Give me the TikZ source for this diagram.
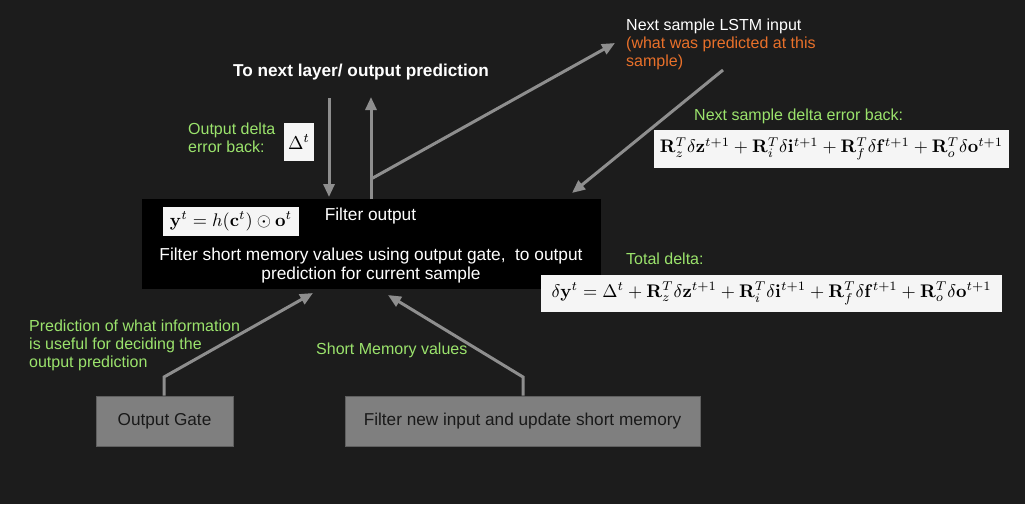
\documentclass[tikz,border=0pt]{standalone}
\usepackage[no-math]{fontspec}
\setmainfont{Liberation Sans}
\usepackage{amsmath}
\usepackage{graphicx}
\usetikzlibrary{arrows.meta}
\definecolor{bg}{HTML}{1C1C1C}
\definecolor{lgreen}{HTML}{9BE36C}
\definecolor{orng}{HTML}{E8702A}
\definecolor{arrc}{HTML}{8E8E8E}
\definecolor{gbox}{HTML}{7F7F7F}
\definecolor{gboxd}{HTML}{5F5F5F}
\definecolor{fbox}{HTML}{F5F5F5}
\tikzset{
  conn/.style={draw=arrc, line width=3pt, -{Triangle[length=13pt,width=11pt]}},
  lbl/.style={text=lgreen, font=\fontsize{16}{18}\selectfont, align=left, anchor=north west, inner sep=0pt},
  wlbl/.style={text=white, font=\fontsize{17.3}{19}\selectfont, inner sep=0pt},
  fml/.style={fill=fbox, inner sep=0pt},
  gatebox/.style={fill=gbox, draw=gboxd, line width=1pt, inner sep=0pt, font=\fontsize{17.2}{19}\selectfont, text=black!90},
}
\begin{document}
\begin{tikzpicture}[x=1pt,y=-1pt]
\fill[bg] (0,0) rectangle (1025,504);
\useasboundingbox (0,0) rectangle (1025,504);

% main box
\node[fill=black, minimum width=459pt, minimum height=90pt, inner sep=0pt, anchor=north west] (main) at (142,199) {};
\node[fml, minimum width=136pt, minimum height=29pt] (yform) at (231,221.5) {\resizebox{122pt}{!}{$\mathbf{y}^t = h(\mathbf{c}^t)\odot\mathbf{o}^t$}};
\node[wlbl] (fout) at (370.5,216) {Filter output};
\node[wlbl, align=center] (fdesc) at (371,265.5) {Filter short memory values using output gate,\ \ to output\\prediction for current sample};

% top
\node[text=white, font=\bfseries\fontsize{17.2}{19}\selectfont, inner sep=0pt] (nextl) at (361,72) {To next layer/ output prediction};
\node[lbl] (odlbl) at (188,123) {Output delta\\error back:};
\node[fml, minimum width=30pt, minimum height=38pt] (dform) at (299,142) {\resizebox{22pt}{!}{$\Delta^t$}};

\node[lbl, text=white, align=left] (nslstm) at (626,19) {Next sample LSTM input\\\textcolor{orng}{(what was predicted at this}\\\textcolor{orng}{sample)}};
\node[lbl] (nsdlbl) at (694,109) {Next sample delta error back:};
\node[fml, minimum width=355pt, minimum height=38pt] (nsform) at (831.5,149) {\resizebox{343pt}{!}{$\mathbf{R}_z^T\delta\mathbf{z}^{t+1}+\mathbf{R}_i^T\delta\mathbf{i}^{t+1}+\mathbf{R}_f^T\delta\mathbf{f}^{t+1}+\mathbf{R}_o^T\delta\mathbf{o}^{t+1}$}};
\node[lbl] (tdlbl) at (626,253) {Total delta:};
\node[fml, minimum width=461pt, minimum height=37pt] (tform) at (771.5,293.5) {\resizebox{440pt}{!}{$\delta\mathbf{y}^t=\Delta^t+\mathbf{R}_z^T\delta\mathbf{z}^{t+1}+\mathbf{R}_i^T\delta\mathbf{i}^{t+1}+\mathbf{R}_f^T\delta\mathbf{f}^{t+1}+\mathbf{R}_o^T\delta\mathbf{o}^{t+1}$}};

% bottom
\node[lbl] (predlbl) at (29,320) {Prediction of what information\\is useful for deciding the\\output prediction};
\node[lbl] (smlbl) at (316,343) {Short Memory values};
\node[gatebox, minimum width=137pt, minimum height=50pt] (og) at (164.5,421) {\raisebox{-2pt}{Output Gate}};
\node[gatebox, minimum width=355pt, minimum height=50pt] (fn) at (522.5,421) {\raisebox{-2pt}{Filter new input and update short memory}};

% coordinates
\coordinate (d1s) at (329,98);
\coordinate (d1e) at (329,197);
\coordinate (u1s) at (371,199);
\coordinate (u1e) at (371,97);
\coordinate (br) at (371,179);
\coordinate (lstmtip) at (615,43);
\coordinate (bks) at (723,70);
\coordinate (bke) at (572,193);
\coordinate (ogk) at (164,377);
\coordinate (ogtip) at (313,293);
\coordinate (fnk) at (523,377);
\coordinate (fntip) at (388,295);

\draw[conn] (d1s) -- (d1e);
\draw[conn] (u1s) -- (u1e);
\draw[conn] (br) -- (lstmtip);
\draw[conn] (bks) -- (bke);
\draw[conn] (og.north -| ogk) -- (ogk) -- (ogtip);
\draw[conn] (fn.north -| fnk) -- (fnk) -- (fntip);
\end{tikzpicture}
\end{document}
